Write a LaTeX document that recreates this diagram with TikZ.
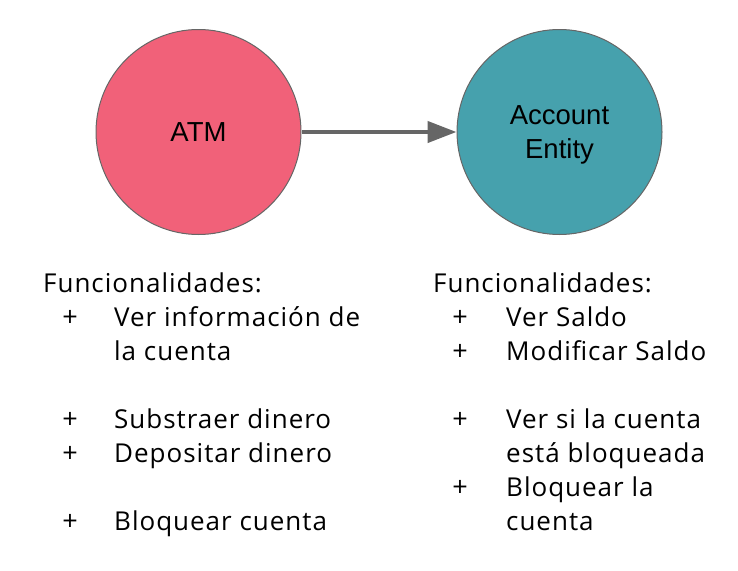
\documentclass[tikz,border=0pt]{standalone}
\usepackage{fontspec}
\setmainfont{Open Sans}[LetterSpace=3.8]
\newfontfamily\circfont{Liberation Sans}
\usetikzlibrary{arrows.meta}
\definecolor{atmpink}{HTML}{F16179}
\definecolor{accteal}{HTML}{46A1AD}
\definecolor{edgegray}{HTML}{666666}
\begin{document}
\begin{tikzpicture}[x=1pt,y=-1pt,
  entity/.style={circle, draw=edgegray, line width=1pt, minimum size=205pt, inner sep=0pt,
    font=\circfont\fontsize{27.5}{34}\selectfont, align=center, text depth=0pt},
  conn/.style={draw=edgegray, line width=4.3pt, -{Triangle[length=29pt,width=21pt]}},
  listtxt/.style={anchor=base west, inner sep=0pt, font=\fontsize{26}{34}\selectfont},
  plus/.style={anchor=base, inner sep=0pt, font=\fontsize{27}{34}\selectfont}]
\useasboundingbox (0,0) rectangle (738,570);
\node[entity, fill=atmpink] (atm) at (198.5,132) {ATM};
\node[entity, fill=accteal] (acc) at (559.5,132) {Account\\Entity};
\draw[conn] (atm) -- (acc);
% left list
\node[listtxt] (lh) at (43,292) {Funcionalidades:};
\node[plus] (lp1) at (70,326) {+};
\node[listtxt] (l1a) at (114,326) {Ver información de};
\node[listtxt] (l1b) at (114,360) {la cuenta};
\node[plus] (lp2) at (70,428) {+};
\node[listtxt] (l2) at (114,428) {Substraer dinero};
\node[plus] (lp3) at (70,462) {+};
\node[listtxt] (l3) at (114,462) {Depositar dinero};
\node[plus] (lp4) at (70,530) {+};
\node[listtxt] (l4) at (114,530) {Bloquear cuenta};
% right list
\node[listtxt] (rh) at (433,292) {Funcionalidades:};
\node[plus] (rp1) at (460,326) {+};
\node[listtxt] (r1) at (506,326) {Ver Saldo};
\node[plus] (rp2) at (460,360) {+};
\node[listtxt] (r2) at (506,360) {Modificar Saldo};
\node[plus] (rp3) at (460,428) {+};
\node[listtxt] (r3a) at (506,428) {Ver si la cuenta};
\node[listtxt] (r3b) at (506,462) {está bloqueada};
\node[plus] (rp4) at (460,496) {+};
\node[listtxt] (r4a) at (506,496) {Bloquear la};
\node[listtxt] (r4b) at (506,530) {cuenta};
\end{tikzpicture}
\end{document}
